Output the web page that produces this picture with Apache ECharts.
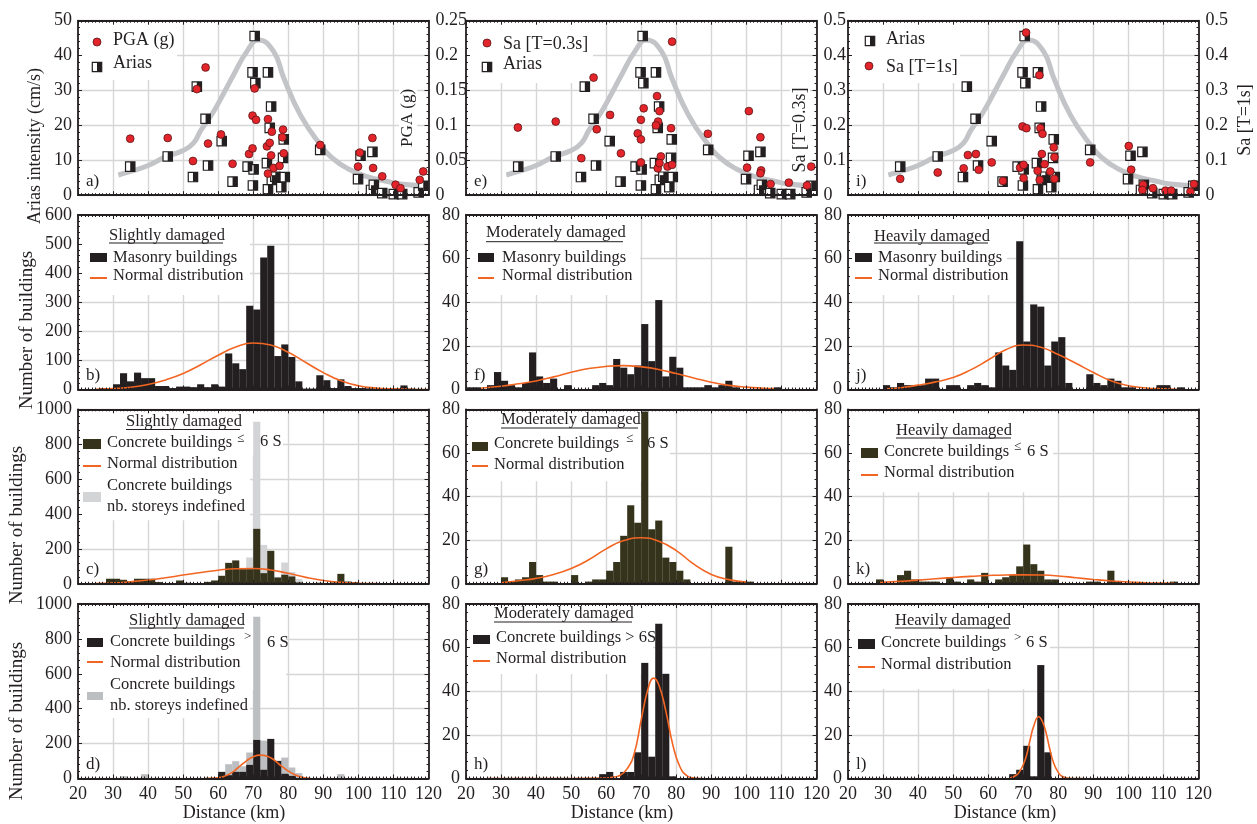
<!DOCTYPE html>
<html>
<head>
<meta charset="utf-8">
<script src="https://cdn.jsdelivr.net/npm/echarts/dist/echarts.min.js"></script>
<style>html,body{margin:0;background:#fff}#chart{width:1257px;height:824px}</style>
</head>
<body>
<div id="chart"></div>
<script>
// ---- data ----
const binCenters = [21,23,25,27,29,31,33,35,37,39,41,43,45,47,49,51,53,55,57,59,61,63,65,67,69,71,73,75,77,79,81,83,85,87,89,91,93,95,97,99,101,103,105,107,109,111,113,115,117,119];

const masonrySlight   = [0,0,0,5,0, 18,56,28,58,39, 39,12,12,5,10, 10,8,18,8,18, 10,124,90,70,288, 275,454,494,115,155, 112,28,3,3,49, 32,5,35,12,5, 5,4,4,3,3, 3,14,3,2,0];
const masonryModerate = [1,1,0,2,8, 4,2,1,3,17, 6,3,5,0,2, 0,0,0,2,3, 2,14,10,7,11, 30,13,41,6,15, 10,1,1,1,2, 1,2,4,1,0, 0,0,0,0,1, 0,0,0,0,0];
const masonryHeavy    = [0,0,0,0,0, 2,1,3,2,2, 2,5,5,0,2, 2,0,2,3,2, 1,17,11,9,68, 22,39,38,11,22, 24,3,0,0,7, 3,2,5,4,1, 1,0,0,0,2, 2,0,1,0,0];

const lowSlight   = [0,0,0,0,29, 29,23,13,29,29, 29,10,4,4,19, 6,4,4,11,19, 46,120,134,84,84, 315,61,189,36,52, 42,8,4,4,6, 4,8,57,13,10, 4,4,4,4,4, 4,4,4,4,4];
const undefSlightC = [0,0,0,0,0, 0,0,0,0,0, 0,0,0,0,0, 0,0,0,0,0, 0,0,0,0,151, 929,223,0,40,122, 67,27,0,0,0, 0,0,0,0,0, 0,0,0,0,0, 0,0,0,0,0];
const lowModerate = [0,0,0,0,0, 3,1,2,3,10, 4,1,1,0,0, 4,0,1,2,2, 6,10,22,36,28, 79,25,29,12,10, 6,2,0,0,0, 0,0,17,1,1, 1,0,0,0,0, 0,0,0,0,0];
const lowHeavy    = [0,0,0,0,2, 0,0,4,6,2, 1,1,1,0,3, 1,0,2,1,5, 0,2,3,4,8, 18,9,6,2,2, 0,0,0,0,1, 1,0,6,1,0, 0,0,0,0,0, 0,1,0,0,0];

const highSlight   = [0,0,0,0,0, 0,0,0,0,0, 0,0,0,0,0, 0,0,0,0,0, 38,19,38,38,78, 221,50,227,101,27, 15,0,0,0,0, 0,0,0,0,0, 0,0,0,0,0, 0,0,0,0,0];
const undefSlightD = [0,0,0,0,0, 0,13,0,0,25, 0,0,0,0,0, 0,0,0,0,0, 0,82,99,70,149, 927,217,0,0,120, 63,31,0,0,0, 0,0,25,0,0, 0,0,0,0,0, 0,0,0,0,0];
const highModerate = [0,0,0,0,0, 0,0,0,0,0, 0,0,0,0,0, 0,0,0,0,2, 3,0,3,3,12, 53,10,71,48,1, 0,0,0,0,0, 0,0,0,0,0, 0,0,0,0,0, 0,0,0,0,0];
const highHeavy    = [0,0,0,0,0, 0,0,0,0,0, 0,0,0,0,0, 0,0,0,0,0, 0,0,0,2,4, 15,1,52,12,0, 0,0,0,0,0, 0,0,0,0,0, 0,0,0,0,0, 0,0,0,0,0];

// normal distribution curves (distance, count)
const normBx = [25,30,35,40,45,50,55,60,65,70,75,80,85,90,95,100,105,110,115,120];
const normBy = [1,3,8,17,33,55,85,118,146,160,153,128,93,58,30,13,5,2,1,0];
const normFx = [24,30,35,40,45,50,55,60,65,70,75,80,85,90,95,100,105,108];
const normFy = [0.6,1.5,2.6,3.9,5.8,7.9,9.6,10.6,10.95,10.4,9.2,7.3,5.3,3.3,1.9,1.1,0.6,0.4];
const normJx = [31,35,40,45,50,55,60,65,70,75,80,85,90,95,100,105,110,114];
const normJy = [0.3,0.8,2,3.5,5.5,9,13.5,18.2,20.4,19.4,16,12,7.8,4,1.7,0.7,0.3,0.1];
const normCx = [25,30,35,40,45,50,55,60,65,70,75,80,85,90,95,100,105,110,120];
const normCy = [1,4,12,22,35,50,65,78,86.5,88,79,60,37,19,8,3,1,0,0];
const normGx = [30,35,40,45,50,55,60,65,70,75,80,85,90,95,100];
const normGy = [0.5,1.4,2.5,4.3,7,11,16,19.8,21.1,19.5,15.2,9,4.3,1.9,0.8];
const normKx = [29,35,40,45,50,55,60,65,70,75,80,85,90,95,100,105,110,113];
const normKy = [0.6,1.1,1.7,2.3,2.9,3.4,3.8,4.05,4.1,4,3.6,2.8,2,1.3,0.8,0.5,0.3,0.2];
const normDx = [56,60,62,64,66,68,70,72,74,76,78,80,82,84,86];
const normDy = [0,4,15,35,68,100,125,134,128,105,72,42,20,7,1];
const normHx = [26,50,60,62,64,66,68,70,72,73.5,75,77,79,81,83,85,87];
const normHy = [0,0,0.2,0.6,1.5,4.5,11.5,27,41.5,46,43,31,15.5,5.5,1.3,0.2,0];
const normLx = [66,68,69,70,71,72,73,74.4,75.5,76.5,77.5,78.7,80,81,83,84,87];
const normLy = [0,1.5,3.3,6.3,11,18,24,28.3,26,21,14,7,2.8,1,0.1,0,0];

// ground motion
const ariasCurveX = [31.5,35,40,45,50,53,55,58.7,62,64.4,68.2,71.5,75.8,78.7,83.4,89.1,93,97,102.5,108,112,118.5];
const ariasCurveY = [5.8,6.8,8.5,11,12.8,15,18.5,24,30,34.5,41.2,44.5,41.2,33.6,23.1,14.5,10.3,7.6,5.3,4,3.2,2.7];
const ariasPts = [[34.9,8.2],[45.6,11.1],[52.8,5.2],[53.9,31.1],[56.4,21.9],[57.1,8.5],[61,15.5],[64.1,3.9],[68.4,8.2],[70.1,7.4],[69.9,2.8],[70.4,45.6],[69.8,35.2],[70.6,32.1],[74.2,35.2],[75.1,25.4],[74.7,19.3],[73.9,9.2],[74.2,1.7],[75.3,4.4],[76.3,5.3],[78,2.3],[78.7,16],[78.5,10.7],[79,5.2],[89.1,13],[99.9,4.6],[100.6,11.3],[104,12.4],[103.6,1.5],[104.4,3],[106.8,0.6],[110.1,0.3],[112.5,0.3],[117.2,0.8],[118.5,2.7]];
const pgaPts = [[34.9,0.081],[45.6,0.082],[52.8,0.049],[53.9,0.152],[56.4,0.183],[57.1,0.074],[60.8,0.087],[64.1,0.045],[68.8,0.059],[69.8,0.067],[69.8,0.114],[70.8,0.108],[70.4,0.153],[74.2,0.109],[73.9,0.07],[74.7,0.075],[75.1,0.057],[75.3,0.091],[74.2,0.031],[75.8,0.039],[77.5,0.042],[78.5,0.094],[78.3,0.083],[78.7,0.06],[89.1,0.072],[99.9,0.041],[100.4,0.061],[104,0.082],[104.2,0.039],[106.8,0.027],[110.6,0.015],[112,0.01],[117.5,0.022],[118.5,0.034]];
const sa03Pts = [[34.8,0.194],[45.6,0.211],[52.9,0.106],[56.4,0.337],[57.3,0.189],[61.1,0.23],[64.2,0.12],[69,0.177],[69.9,0.16],[69.9,0.216],[70.7,0.249],[69.9,0.094],[74.5,0.284],[74.8,0.211],[75.2,0.241],[74.2,0.2],[75.6,0.111],[74.7,0.077],[75.2,0.092],[77.5,0.082],[78.8,0.087],[78.5,0.192],[78.8,0.44],[89,0.176],[100.7,0.241],[100.2,0.079],[104,0.166],[104.2,0.071],[104,0.063],[106.9,0.032],[112.1,0.036],[117.3,0.028],[118.5,0.082]];
const sa1Pts = [[34.9,0.047],[45.6,0.065],[53,0.077],[54.2,0.115],[56.5,0.118],[57.3,0.073],[61,0.094],[64.2,0.041],[69.1,0.079],[70.1,0.087],[70.1,0.049],[69.8,0.197],[70.9,0.192],[70.8,0.466],[74.6,0.344],[74.9,0.192],[75.5,0.176],[75.3,0.118],[74.1,0.07],[74.7,0.044],[76.1,0.089],[77.7,0.068],[78.7,0.137],[78.9,0.109],[78.9,0.047],[89.1,0.094],[100.1,0.141],[100.8,0.073],[104.2,0.03],[104,0.015],[107,0.02],[110.6,0.013],[112.2,0.013],[117.7,0.01],[118.7,0.032]];

const distTicks = [20,30,40,50,60,70,80,90,100,110,120];

// ---- layout / style ----
const colLeft = [78, 466, 848];
const rowTop = [20.7, 215, 409.3, 604];
const plotW = 350.5, plotH = 174.5;
const ink = '#231f20';
const serif = '"Liberation Serif", "Times New Roman", serif';
const red = '#e3242b', orange = '#f26522', curveGray = '#c3c4c7';
const oliveDark = '#35331b', undefLight = '#d3d4d6', undefMid = '#bdbec1';
const legendSize = 16.5;

const chart = echarts.init(document.getElementById('chart'));
const grids = [], xAxes = [], yAxes = [], series = [], graphics = [];

const frameLine = { show: true, onZero: false, lineStyle: { color: ink, width: 1.8 } };
const tickIn = { show: true, inside: true, length: 4, lineStyle: { color: ink, width: 1 } };
const minor = n => ({ show: true, splitNumber: n, length: 2, lineStyle: { color: ink, width: 1 } });
const gridLine = { show: true, lineStyle: { color: '#d6d6d6', width: 1.4 } };
const labelStyle = (extra) => Object.assign({ show: true, color: ink, fontFamily: serif, fontSize: 18, margin: 6,
  showMinLabel: true, showMaxLabel: true, formatter: v => String(+(+v).toFixed(4)) }, extra || {});
const off = { show: false };

function addPanel(row, col, cfg) {
  const gi = grids.length;
  grids.push({ left: colLeft[col], top: rowTop[row], width: plotW, height: plotH, outerBoundsMode: 'none', containLabel: false });
  const xb = { gridIndex: gi, type: 'value', min: distTicks[0], max: distTicks[distTicks.length - 1], interval: 10 };
  xAxes.push(Object.assign({}, xb, { position: 'bottom', z: 4, axisLine: frameLine, axisTick: tickIn, minorTick: minor(10), splitLine: off,
    axisLabel: row === 3 ? labelStyle({ margin: 7 }) : off }));
  xAxes.push(Object.assign({}, xb, { position: 'top', z: 4, axisLine: frameLine, axisTick: tickIn, minorTick: minor(10), splitLine: off, axisLabel: off }));
  xAxes.push(Object.assign({}, xb, { position: 'bottom', z: 0, axisLine: off, axisTick: off, axisLabel: off, splitLine: gridLine }));
  const yb = { gridIndex: gi, type: 'value', min: 0, max: cfg.yMax, interval: cfg.yInt };
  yAxes.push(Object.assign({}, yb, { position: 'left', z: 4, axisLine: frameLine, axisTick: tickIn, minorTick: minor(5), splitLine: off,
    axisLabel: cfg.leftLabels ? labelStyle() : off }));
  yAxes.push({ gridIndex: gi, type: 'value', min: 0, max: cfg.rMax || cfg.yMax, interval: cfg.rInt || cfg.yInt, position: 'right', z: 4,
    axisLine: frameLine, axisTick: tickIn, minorTick: minor(5), splitLine: off,
    axisLabel: cfg.rightLabels ? labelStyle({ margin: 7 }) : off });
  yAxes.push(Object.assign({}, yb, { position: 'left', z: 0, axisLine: off, axisTick: off, axisLabel: off, splitLine: gridLine }));
  graphics.push(txt(colLeft[col] + 8, rowTop[row] + plotH - 14, cfg.letter, 17));
  return gi;
}

function txt(x, y, s, size, align) {
  return { type: 'text', x, y, z: 2, silent: true,
    style: { text: s, font: size + 'px ' + serif, fill: ink, align: align || 'left', verticalAlign: 'middle' } };
}
function vtxt(x, y, s, size) {
  return { type: 'text', x, y, z: 2, rotation: Math.PI / 2, silent: true,
    style: { text: s, font: size + 'px ' + serif, fill: ink, align: 'center', verticalAlign: 'middle' } };
}
function box(x, y, w, h) {
  return { type: 'rect', z: 1, silent: true, shape: { x, y, width: w, height: h }, style: { fill: '#fff' } };
}
function swatch(x, y, w, h, color) {
  return { type: 'rect', z: 2, silent: true, shape: { x, y, width: w, height: h }, style: { fill: color } };
}
function hline(x1, x2, y, color, w) {
  return { type: 'line', z: 2, silent: true, shape: { x1, y1: y, x2, y2: y }, style: { stroke: color, lineWidth: w } };
}
function redDot(cx, cy) {
  return { type: 'circle', z: 2, silent: true, shape: { cx, cy, r: 4 }, style: { fill: red, stroke: '#5a1616', lineWidth: 0.8 } };
}
function ariasMark(cx, cy) {
  return [
    { type: 'rect', z: 2, silent: true, shape: { x: cx - 4.7, y: cy - 4.7, width: 9.4, height: 9.4 }, style: { fill: '#fff', stroke: ink, lineWidth: 1.2 } },
    swatch(cx, cy - 4.7, 4.7, 9.4, ink)
  ];
}

function ariasSeries(gi) {
  const ax = { xAxisIndex: 3 * gi, yAxisIndex: 3 * gi, z: 3, silent: true };
  return [
    Object.assign({ type: 'line', data: ariasCurveX.map((x, i) => [x, ariasCurveY[i]]), smooth: 0.5, symbol: 'none',
      lineStyle: { color: curveGray, width: 5 } }, ax),
    Object.assign({ type: 'scatter', data: ariasPts, symbol: 'rect', symbolSize: 9.4,
      itemStyle: { color: '#fff', borderColor: ink, borderWidth: 1.2, opacity: 1 } }, ax),
    Object.assign({ type: 'scatter', data: ariasPts, symbol: 'rect', symbolSize: [4.7, 9.4], symbolOffset: [2.35, 0],
      itemStyle: { color: ink, opacity: 1 } }, ax)
  ];
}
function dotSeries(gi, pts) {
  return { type: 'scatter', xAxisIndex: 3 * gi, yAxisIndex: 3 * gi + 1, z: 3, silent: true, data: pts, symbol: 'circle', symbolSize: 7.8,
    itemStyle: { color: red, borderColor: '#5a1616', borderWidth: 0.8, opacity: 1 } };
}
function bars(gi, values, color) {
  return { type: 'bar', xAxisIndex: 3 * gi, yAxisIndex: 3 * gi, z: 3, silent: true, barWidth: 7.1, barGap: '-100%',
    data: binCenters.map((x, i) => [x, values[i]]), itemStyle: { color } };
}
function normal(gi, xs, ys) {
  return { type: 'line', xAxisIndex: 3 * gi, yAxisIndex: 3 * gi, z: 3, silent: true, clip: true, data: xs.map((x, i) => [x, ys[i]]),
    smooth: 0.5, symbol: 'none', lineStyle: { color: orange, width: 1.6 } };
}

// ---- row 1: ground motion ----
let g = addPanel(0, 0, { letter: 'a)', yMax: 50, yInt: 10, rMax: 0.25, rInt: 0.05, leftLabels: true, rightLabels: true });
series.push(...ariasSeries(g), dotSeries(g, pgaPts));
g = addPanel(0, 1, { letter: 'e)', yMax: 50, yInt: 10, rMax: 0.5, rInt: 0.1, leftLabels: false, rightLabels: true });
series.push(...ariasSeries(g), dotSeries(g, sa03Pts));
g = addPanel(0, 2, { letter: 'i)', yMax: 50, yInt: 10, rMax: 0.5, rInt: 0.1, leftLabels: false, rightLabels: true });
series.push(...ariasSeries(g), dotSeries(g, sa1Pts));

// ---- row 2: masonry ----
g = addPanel(1, 0, { letter: 'b)', yMax: 600, yInt: 100, leftLabels: true });
series.push(bars(g, masonrySlight, ink), normal(g, normBx, normBy));
g = addPanel(1, 1, { letter: 'f)', yMax: 80, yInt: 20, leftLabels: true });
series.push(bars(g, masonryModerate, ink), normal(g, normFx, normFy));
g = addPanel(1, 2, { letter: 'j)', yMax: 80, yInt: 20, leftLabels: true });
series.push(bars(g, masonryHeavy, ink), normal(g, normJx, normJy));

// ---- row 3: concrete <= 6 storeys ----
g = addPanel(2, 0, { letter: 'c)', yMax: 1000, yInt: 200, leftLabels: true });
series.push(bars(g, undefSlightC, undefLight), bars(g, lowSlight, oliveDark), normal(g, normCx, normCy));
g = addPanel(2, 1, { letter: 'g)', yMax: 80, yInt: 20, leftLabels: true });
series.push(bars(g, lowModerate, oliveDark), normal(g, normGx, normGy));
g = addPanel(2, 2, { letter: 'k)', yMax: 80, yInt: 20, leftLabels: true });
series.push(bars(g, lowHeavy, oliveDark), normal(g, normKx, normKy));

// ---- row 4: concrete > 6 storeys ----
g = addPanel(3, 0, { letter: 'd)', yMax: 1000, yInt: 200, leftLabels: true });
series.push(bars(g, undefSlightD, undefMid), bars(g, highSlight, ink), normal(g, normDx, normDy));
g = addPanel(3, 1, { letter: 'h)', yMax: 80, yInt: 20, leftLabels: true });
series.push(bars(g, highModerate, ink), normal(g, normHx, normHy));
g = addPanel(3, 2, { letter: 'l)', yMax: 80, yInt: 20, leftLabels: true });
series.push(bars(g, highHeavy, ink), normal(g, normLx, normLy));

// ---- axis names ----
graphics.push(vtxt(35, 146, 'Arias intensity (cm/s)', 18));
graphics.push(vtxt(27, 330, 'Number of buildings', 19));
graphics.push(vtxt(17.5, 525, 'Number of buildings', 19));
graphics.push(vtxt(17.5, 721, 'Number of buildings', 19));
graphics.push(box(399, 86, 18, 64), vtxt(408, 118, 'PGA (g)', 17));
graphics.push(box(790, 80, 20, 100), vtxt(800, 130, 'Sa [T=0.3s]', 18));
graphics.push(vtxt(1245, 120, 'Sa [T=1s]', 18));
[234, 622, 1005].forEach(cx => graphics.push(txt(cx, 813, 'Distance (km)', 18, 'center')));

// ---- legends ----
function title(x1, x2, y, yl, s) { return [txt(x1, y, s, legendSize), hline(x1, x2, yl, ink, 1)]; }

// a
graphics.push(box(78, 20.7, 99, 59.3), redDot(97, 42), txt(113, 40, 'PGA (g)', 18), ...ariasMark(97, 67), txt(113, 63, 'Arias', 18));
// e
graphics.push(box(466, 20.7, 127, 62.3), redDot(487, 43), txt(503, 44, 'Sa [T=0.3s]', 18), ...ariasMark(487, 67), txt(503, 64, 'Arias', 18));
// i
graphics.push(box(848, 20.7, 112, 62.3), ...ariasMark(870, 41), txt(886, 39, 'Arias', 18), redDot(869, 66), txt(886, 67, 'Sa [T=1s]', 18));

// b, f, j
[[78, 250, 109, 223, 236, 243, 90, 17, 113, 'Slightly damaged'],
 [466, 640, 486, 623, 233, 241.7, 478, 16, 502, 'Moderately damaged'],
 [848, 1007, 874, 988, 237, 243, 855, 17, 878, 'Heavily damaged']].forEach(p => {
  graphics.push(box(p[0], 215, p[1] - p[0], 80), ...title(p[2], p[3], p[4], p[5], p[9]),
    swatch(p[6], 253, p[7], 9, ink), txt(p[8], 258, 'Masonry buildings', legendSize),
    hline(p[6], p[6] + p[7], 278, orange, 2), txt(p[8], 276, 'Normal distribution', legendSize));
});

// c
graphics.push(box(78, 409.3, 205, 46), box(78, 409.3, 172, 111), ...title(126, 240, 422, 429.5, 'Slightly damaged'),
  swatch(83, 439, 18, 10, oliveDark), txt(107, 443, 'Concrete buildings', legendSize), txt(237, 439, '≤', 13), txt(260, 442, '6 S', legendSize),
  hline(83, 101, 466, orange, 2), txt(107, 464, 'Normal distribution', legendSize),
  swatch(83, 492, 18, 10, undefLight), txt(107, 486, 'Concrete buildings', legendSize), txt(107, 507, 'nb. storeys indefined', legendSize));
// g
graphics.push(box(466, 409.3, 204, 72), ...title(501, 638, 420, 428, 'Moderately damaged'),
  swatch(472, 442, 16, 9, oliveDark), txt(494, 444, 'Concrete buildings', legendSize), txt(626, 439, '≤', 13), txt(647, 444, '6 S', legendSize),
  hline(472, 488, 466, orange, 2), txt(494, 465, 'Normal distribution', legendSize));
// k
graphics.push(box(848, 409.3, 205, 83), ...title(896, 1011, 431, 438, 'Heavily damaged'),
  swatch(861, 448, 17, 10, oliveDark), txt(884, 452, 'Concrete buildings', legendSize), txt(1014, 447, '≤', 13), txt(1027, 452, '6 S', legendSize),
  hline(861, 878, 475, orange, 2), txt(884, 473, 'Normal distribution', legendSize));
// d
graphics.push(box(78, 604, 208, 86), box(78, 604, 172, 114), ...title(129, 244, 621, 628, 'Slightly damaged'),
  swatch(87, 638, 16, 9, ink), txt(110, 642, 'Concrete buildings', legendSize), txt(244, 637, '>', 13), txt(267, 643, '6 S', legendSize),
  hline(87, 103, 662, orange, 2), txt(110, 663, 'Normal distribution', legendSize),
  swatch(87, 692, 16, 8, undefMid), txt(110, 685, 'Concrete buildings', legendSize), txt(110, 706, 'nb. storeys indefined', legendSize));
// h
graphics.push(box(466, 604, 187, 70), ...title(494, 632, 614, 622, 'Moderately damaged'),
  swatch(473, 635, 17, 9, ink), txt(496, 638, 'Concrete buildings > 6S', legendSize),
  hline(473, 490, 661, orange, 2), txt(496, 659, 'Normal distribution', legendSize));
// l
graphics.push(box(848, 604, 202, 85), ...title(895, 1009, 621, 628, 'Heavily damaged'),
  swatch(858, 639, 17, 10, ink), txt(881, 643, 'Concrete buildings', legendSize), txt(1014, 638, '>', 13), txt(1026, 643, '6 S', legendSize),
  hline(858, 875, 667, orange, 2), txt(881, 665, 'Normal distribution', legendSize));

chart.setOption({
  animation: false,
  backgroundColor: '#fff',
  textStyle: { fontFamily: serif },
  grid: grids,
  xAxis: xAxes,
  yAxis: yAxes,
  series: series,
  graphic: { elements: graphics }
});
</script>
</body>
</html>
